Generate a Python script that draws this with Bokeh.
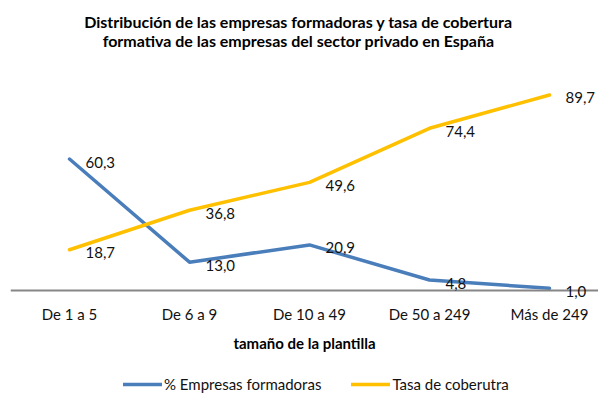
from bokeh.plotting import figure
from bokeh.models import (ColumnDataSource, FixedTicker, Label, LabelSet, Legend,
                          LegendItem, Range1d)
from bokeh.core.properties import value
from bokeh.embed import file_html
from bokeh.resources import INLINE

categories = ["De 1 a 5", "De 6 a 9", "De 10 a 49", "De 50 a 249", "Más de 249"]
empresas_formadoras = [60.3, 13.0, 20.9, 4.8, 1.0]
tasa_cobertura = [18.7, 36.8, 49.6, 74.4, 89.7]
series_names = ["% Empresas formadoras", "Tasa de coberutra"]
title_lines = ["Distribución de las empresas formadoras y tasa  de cobertura",
               "formativa de las empresas del sector privado  en España"]
x_title = "tamaño de la plantilla"

FONT = "Lato"
BLUE = "#4A7EBB"
YELLOW = "#FFC000"
TXT = "#111111"

W, H = 598, 401
PX_PER_UNIT = 2.18          # vertical scale (pixels per percentage point)
ZERO_PX = 290               # pixel row of the zero line (from top)
CAT_PX, CAT_STEP = 69, 120  # pixel column of first category, spacing
LEFT = 10

xs = list(range(1, len(categories) + 1))


def fmt(v):
    return f"{v:.1f}".replace(".", ",")


def ydata(px_from_top):
    return (ZERO_PX - px_from_top) / PX_PER_UNIT


def xdata(px):
    return 1 + (px - CAT_PX) / CAT_STEP


src_a = ColumnDataSource(dict(x=xs, y=empresas_formadoras,
                              lab=[fmt(v) for v in empresas_formadoras]))
src_b = ColumnDataSource(dict(x=xs, y=tasa_cobertura,
                              lab=[fmt(v) for v in tasa_cobertura]))

p = figure(width=W, height=H, output_backend="svg", toolbar_location=None,
           x_range=Range1d(xdata(LEFT), xdata(W)),
           y_range=Range1d(ydata(H), ydata(0)),
           y_axis_location=None, min_border_left=LEFT, min_border_right=0,
           min_border_top=0, min_border_bottom=0)
p.outline_line_color = None
p.grid.visible = False
p.background_fill_color = "white"
p.border_fill_color = "white"

r_a = p.line("x", "y", source=src_a, line_color=BLUE, line_width=3.5,
             line_join="round", line_cap="round")
r_b = p.line("x", "y", source=src_b, line_color=YELLOW, line_width=3.5,
             line_join="round", line_cap="round")

for src in (src_a, src_b):
    p.add_layout(LabelSet(x="x", y="y", text="lab", source=src,
                          x_offset=16, y_offset=-3, text_baseline="middle",
                          text_align="left", text_font=value(FONT),
                          text_font_size=value("15px"), text_color=TXT))

ax = p.xaxis[0]
ax.fixed_location = 0
ax.ticker = FixedTicker(ticks=xs)
ax.major_label_overrides = {x: c for x, c in zip(xs, categories)}
ax.major_label_text_font = FONT
ax.major_label_text_font_size = "15px"
ax.major_label_text_color = TXT
ax.major_tick_line_color = None
ax.minor_tick_line_color = None
ax.major_tick_out = 0
ax.major_tick_in = 0
ax.minor_tick_out = 0
ax.axis_line_color = "#868686"
ax.axis_line_width = 2
ax.major_label_standoff = 14
ax.axis_label = x_title
ax.axis_label_text_font = FONT
ax.axis_label_text_font_style = "bold"
ax.axis_label_text_font_size = "15px"
ax.axis_label_text_color = "#000000"
ax.axis_label_standoff = 8

for line, y_px in zip(title_lines, (20.5, 40)):
    p.add_layout(Label(x=xdata(300), y=ydata(y_px), text=line,
                       text_align="center", text_baseline="middle",
                       text_font=FONT, text_font_style="bold",
                       text_font_size="16px", text_color="#000000"))

legend = Legend(items=[LegendItem(label=series_names[0], renderers=[r_a]),
                       LegendItem(label=series_names[1], renderers=[r_b])],
                orientation="horizontal", location=(123 - LEFT, 8),
                label_text_font=FONT, label_text_font_size="15px",
                label_text_color=TXT, glyph_width=39, glyph_height=16,
                label_standoff=2, spacing=30, padding=0, margin=0,
                border_line_color=None, background_fill_alpha=0)
p.add_layout(legend, "center")

open("out.html", "w").write(file_html(p, INLINE))
